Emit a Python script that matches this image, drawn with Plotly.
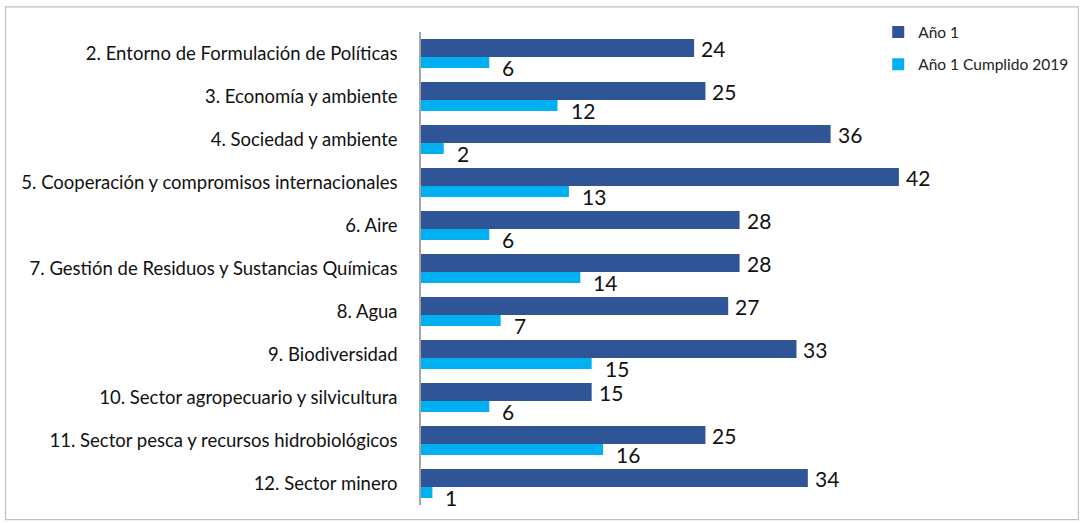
import plotly.graph_objects as go

categories = [
    "2. Entorno de Formulación de Políticas",
    "3. Economía y ambiente",
    "4. Sociedad y ambiente",
    "5. Cooperación y compromisos internacionales",
    "6. Aire",
    "7. Gestión de Residuos y Sustancias Químicas",
    "8. Agua",
    "9. Biodiversidad",
    "10. Sector agropecuario y silvicultura",
    "11. Sector pesca y recursos hidrobiológicos",
    "12. Sector minero",
]
anio1 = [24, 25, 36, 42, 28, 28, 27, 33, 15, 25, 34]
cumplido = [6, 12, 2, 13, 6, 14, 7, 15, 6, 16, 1]

DARK = "#2F5597"
LIGHT = "#00B0F0"
FONT = "Lato"

fig = go.Figure()
fig.add_trace(go.Bar(
    y=categories, x=anio1, orientation="h", name="Año 1",
    marker=dict(color=DARK, line=dict(width=0)),
    offset=-0.337, width=0.419, legendgroup="a",
))
fig.add_trace(go.Bar(
    y=categories, x=cumplido, orientation="h", name="Año 1 Cumplido 2019",
    marker=dict(color=LIGHT, line=dict(width=0)),
    offset=0.082, width=0.255, legendgroup="b",
))

annotations = []
for c, v in zip(categories, anio1):
    annotations.append(dict(x=v, y=c, xref="x", yref="y", text=str(v),
                            showarrow=False, xanchor="left", yanchor="middle",
                            xshift=5, yshift=5,
                            font=dict(family=FONT, size=21, color="#111111")))
for c, v in zip(categories, cumplido):
    annotations.append(dict(x=v, y=c, xref="x", yref="y", text=str(v),
                            showarrow=False, xanchor="left", yanchor="middle",
                            xshift=11, yshift=-14,
                            font=dict(family=FONT, size=21, color="#111111")))

fig.update_layout(
    width=1082, height=523,
    margin=dict(l=421, r=149, t=32, b=18, autoexpand=False),
    plot_bgcolor="white", paper_bgcolor="white",
    barmode="overlay",
    showlegend=True,
    legend=dict(x=0.893, y=1.035, xanchor="left", yanchor="top",
                font=dict(family=FONT, size=15.5, color="#222222"),
                traceorder="grouped", tracegroupgap=9,
                bgcolor="rgba(0,0,0,0)", itemwidth=30),
    annotations=annotations,
    shapes=[dict(type="rect", xref="paper", yref="paper",
                 x0=-0.8115, x1=1.284, y0=-0.031, y1=1.053,
                 line=dict(color="#BFBFBF", width=1.2), fillcolor="rgba(0,0,0,0)")],
)
fig.update_xaxes(range=[0, 45], visible=False, showgrid=False, zeroline=False)
fig.update_yaxes(
    type="category", categoryorder="array", categoryarray=categories,
    range=[len(categories) - 0.5, -0.5], autorange=False,
    showgrid=False, zeroline=False,
    showline=True, linecolor="#A6A6A6", linewidth=1.5,
    ticks="", ticklabelstandoff=18,
    tickfont=dict(family=FONT, size=18.5, color="#111111"),
)

fig.write_html("out.html", config={"displayModeBar": False},
               post_script="document.body.style.margin='0';")
